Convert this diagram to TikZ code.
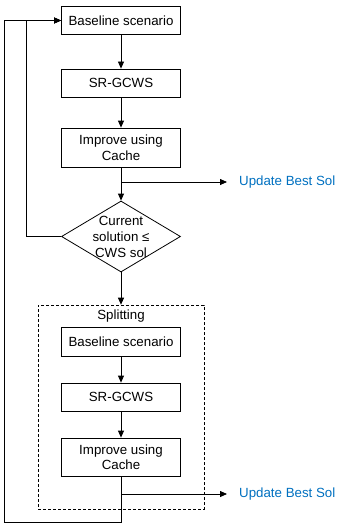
\documentclass[tikz,border=0pt]{standalone}
\usepackage{fontspec}
\setmainfont{Liberation Sans}
\usetikzlibrary{shapes.geometric,arrows.meta}
\definecolor{solblue}{RGB}{0,112,192}
\tikzset{
  procbox/.style={draw, line width=0.8pt, minimum width=119pt, align=center, inner sep=1pt},
  decision/.style={draw, diamond, line width=0.8pt, minimum width=119pt, minimum height=71pt, inner sep=0pt},
  flow/.style={line width=0.8pt, -{Triangle[length=7pt,width=6pt]}},
  upd/.style={text=solblue, inner sep=0pt, anchor=west}
}
\begin{document}
\begin{tikzpicture}[x=1pt, y=-1pt, font=\fontsize{13.3}{15.5}\selectfont]
\useasboundingbox (0,0) rectangle (340,524);
% main loop
\node[procbox, minimum height=27.5pt] (base1) at (121,20.5) {Baseline scenario};
\node[procbox, minimum height=28pt] (sr1) at (121,83) {SR-GCWS};
\node[procbox, minimum height=39pt] (imp1) at (121,147.5) {Improve using\\Cache};
\node[decision] (dec) at (121,236.5) {};
\node[align=center, font=\fontsize{13.3}{16}\selectfont] (dectext) at (dec) {Current\\solution ≤\\CWS sol};
\node[upd] (upd1) at (239,182) {Update Best Sol};
\coordinate (j1) at (121,182);
% splitting block
\node[draw, dash pattern=on 3pt off 2pt, line width=0.6pt, minimum width=166pt, minimum height=204pt] (frame) at (121,407) {};
\node (splitlbl) at (121,316) {Splitting};
\node[procbox, minimum height=29pt] (base2) at (121,341.5) {Baseline scenario};
\node[procbox, minimum height=28pt] (sr2) at (121,397) {SR-GCWS};
\node[procbox, minimum height=38pt] (imp2) at (121,457) {Improve using\\Cache};
\node[upd] (upd2) at (239,494) {Update Best Sol};
\coordinate (j2) at (121,494);
\coordinate (lowcorner) at (4,522);

\draw[flow] (base1) -- (sr1);
\draw[flow] (sr1) -- (imp1);
\draw[flow] (imp1) -- (dec);
\draw[flow, shorten >=12pt] (j1) -- (upd1.west);
\draw[flow] (dec.west) -- ++(-34.5,0) |- (base1.west);
\draw[flow] (dec) -- (frame.north);
\draw[flow] (base2) -- (sr2);
\draw[flow] (sr2) -- (imp2);
\draw[flow, shorten >=12pt] (j2) -- (upd2.west);
\draw[flow] (imp2.south) |- (lowcorner) |- (base1.west);
\end{tikzpicture}
\end{document}
